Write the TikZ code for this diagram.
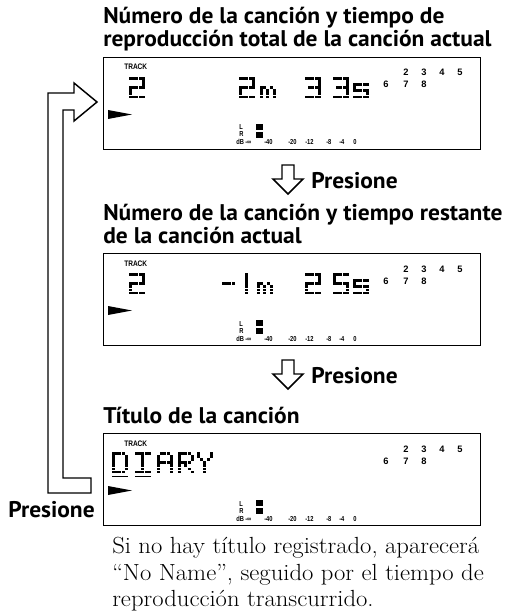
\documentclass[tikz,border=0pt]{standalone}
\usepackage{fontspec}
\newfontfamily\ttlfont{PT Sans}
\newfontfamily\lcdfont{Liberation Sans}
\newcommand\dmpix[3]{\foreach \cc/\rr in #3 {\fill ({#1+\cc*3.2},{#2+\rr*3.1}) rectangle ++(3.0,2.6);}}
\def\chTwo{0/0,1/0,2/0,3/0,4/0,4/1,4/2,0/3,1/3,2/3,3/3,4/3,0/4,0/5,0/6,1/6,2/6,3/6,4/6}
\def\chThree{0/0,1/0,2/0,3/0,4/0,4/1,4/2,1/3,2/3,3/3,4/3,4/4,4/5,0/6,1/6,2/6,3/6,4/6}
\def\chFive{0/0,1/0,2/0,3/0,4/0,0/1,0/2,0/3,1/3,2/3,3/3,4/3,4/4,4/5,0/6,1/6,2/6,3/6,4/6}
\def\chS{0/2,1/2,2/2,3/2,4/2,0/3,0/4,1/4,2/4,3/4,4/4,4/5,0/6,1/6,2/6,3/6,4/6}
\def\chM{0/3,1/3,3/3,0/4,2/4,4/4,0/5,2/5,4/5,0/6,2/6,4/6}
\def\chOne{2/0,2/1,2/2,2/3,2/4,2/5,2/6}
\def\chMinus{0/3,1/3,2/3,3/3}
\def\chD{0/0,1/0,2/0,3/0,0/1,4/1,0/2,4/2,0/3,4/3,0/4,4/4,0/5,4/5,0/6,1/6,2/6,3/6}
\def\chI{0/0,1/0,2/0,3/0,4/0,2/1,2/2,2/3,2/4,2/5,0/6,1/6,2/6,3/6,4/6}
\def\chA{1/0,2/0,3/0,0/1,4/1,0/2,4/2,0/3,1/3,2/3,3/3,4/3,0/4,4/4,0/5,4/5,0/6,4/6}
\def\chR{0/0,1/0,2/0,3/0,0/1,4/1,0/2,4/2,0/3,1/3,2/3,3/3,0/4,2/4,0/5,3/5,0/6,4/6}
\def\chY{0/0,4/0,0/1,4/1,1/2,3/2,2/3,2/4,2/5,2/6}
\newcommand\ttlx[1]{\scalebox{1.035}[1]{#1}}
\newcommand\notex[1]{\scalebox{1.057}[1]{#1}}
\tikzset{
  ttl/.style={anchor=base west, inner sep=0pt, font=\ttlfont\bfseries\fontsize{17}{20}\selectfont},
  note/.style={anchor=base west, inner sep=0pt, font=\fontsize{17.5}{20}\selectfont},
  lcdbox/.style={draw, line width=1.1pt, anchor=north west, minimum width=282.75pt, minimum height=69pt, inner sep=0pt},
  trk/.style={anchor=base west, inner sep=0pt, font=\lcdfont\bfseries\fontsize{6}{6}\selectfont},
  num/.style={anchor=base west, inner sep=0pt, font=\lcdfont\bfseries\fontsize{7}{7}\selectfont},
  met/.style={anchor=base west, inner sep=0pt, font=\lcdfont\bfseries\fontsize{5.4}{6}\selectfont},
  hollow/.style={draw, line width=1.1pt, fill=white, line join=miter}
}
\newcommand\lcdcommon[1]{%
  \node[trk] (trk#1) at (124,13) {\scalebox{0.82}[1]{TRACK}};
  \node[num] (na#1) at (403,19) {2};
  \node[num] (nb#1) at (421,19) {3};
  \node[num] (nc#1) at (439,19) {4};
  \node[num] (nd#1) at (457,19) {5};
  \node[num] (ne#1) at (383,31) {6};
  \node[num] (nf#1) at (403,31) {7};
  \node[num] (ng#1) at (421,31) {8};
  \fill (108,53) -- (108,62) -- (132,57.5) -- cycle;
  \node[met] (L#1) at (239,73) {\scalebox{0.8}[1]{L}};
  \node[met] (R#1) at (239,80) {\scalebox{0.8}[1]{R}};
  \node[met] (dB#1) at (236,88) {\scalebox{0.8}[1]{dB}};
  \fill (256,67) rectangle (263,73);
  \fill (256,75) rectangle (263,81);
  \node[met] (ma#1) at (245,88) {\scalebox{0.8}[1]{-∞}};
  \node[met] (mb#1) at (264,88) {\scalebox{0.8}[1]{-40}};
  \node[met] (mc#1) at (288,88) {\scalebox{0.8}[1]{-20}};
  \node[met] (md#1) at (305,88) {\scalebox{0.8}[1]{-12}};
  \node[met] (me#1) at (326,88) {\scalebox{0.8}[1]{-8}};
  \node[met] (mf#1) at (339,88) {\scalebox{0.8}[1]{-4}};
  \node[met] (mg#1) at (353,88) {\scalebox{0.8}[1]{0}};
}
\begin{document}
\begin{tikzpicture}[x=0.75pt,y=-0.75pt]
\useasboundingbox (0,0) rectangle (511,613);
% titles
\node[ttl] (t1a) at (103,24) {\ttlx{Número de la canción y tiempo de}};
\node[ttl] (t1b) at (103,47) {\ttlx{reproducción total de la canción actual}};
\node[ttl] (t2a) at (103,220) {\ttlx{Número de la canción y tiempo restante}};
\node[ttl] (t2b) at (103,243) {\ttlx{de la canción actual}};
\node[ttl] (t3) at (103,423) {\ttlx{Título de la canción}};
% display 1
\node[lcdbox] (d1) at (103,57) {};
\begin{scope}[shift={(0,57)}]
  \lcdcommon{1}
  \dmpix{129}{20}{\chTwo}
  \dmpix{239}{20}{\chTwo}
  \dmpix{260}{20}{\chM}
  \dmpix{305}{20}{\chThree}
  \dmpix{333}{20}{\chThree}
  \dmpix{353}{20}{\chS}
\end{scope}
% display 2
\node[lcdbox] (d2) at (103,253) {};
\begin{scope}[shift={(0,253)}]
  \lcdcommon{2}
  \dmpix{129}{20}{\chTwo}
  \dmpix{222}{20}{\chMinus}
  \dmpix{239}{20}{\chOne}
  \dmpix{257}{20}{\chM}
  \dmpix{305}{20}{\chTwo}
  \dmpix{333}{20}{\chFive}
  \dmpix{353}{20}{\chS}
\end{scope}
% display 3
\node[lcdbox] (d3) at (103,433) {};
\begin{scope}[shift={(0,433)}]
  \lcdcommon{3}
  \dmpix{112}{19}{\chD}
  \dmpix{135}{19}{\chI}
  \dmpix{157}{19}{\chA}
  \dmpix{178}{19}{\chR}
  \dmpix{197}{19}{\chY}
  \fill (112,42.8) rectangle (127.8,44.3);
  \fill (135,42.8) rectangle (150.8,44.3);
\end{scope}
% down arrows
\draw[hollow] (282,165) -- (294,165) -- (294,179) -- (303,179) -- (288,194) -- (273,179) -- (282,179) -- cycle;
\node[ttl] (p1) at (311,188) {\ttlx{Presione}};
\draw[hollow] (282,360) -- (294,360) -- (294,374) -- (303,374) -- (288,389) -- (273,374) -- (282,374) -- cycle;
\node[ttl] (p2) at (311,383) {\ttlx{Presione}};
% return arrow
\draw[hollow] (48,93) -- (74,93) -- (74,83) -- (97,102) -- (74,121) -- (74,110) -- (63,110) -- (63,478) -- (91,478) -- (91,493) -- (48,493) -- cycle;
\node[ttl] (p3) at (8,517) {\ttlx{Presione}};
% note
\node[note] (f1) at (112,553) {\notex{Si no hay título registrado, aparecerá}};
\node[note] (f2) at (112,580) {\notex{“No Name”, seguido por el tiempo de}};
\node[note] (f3) at (112,606) {\notex{reproducción transcurrido.}};
\end{tikzpicture}
\end{document}
